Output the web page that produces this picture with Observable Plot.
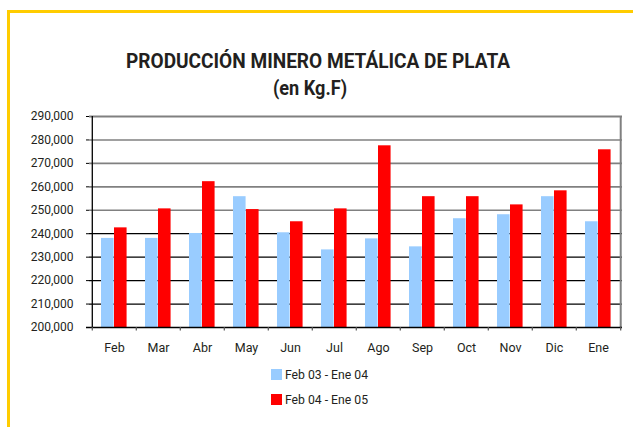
<!DOCTYPE html>
<html>
<head>
<meta charset="utf-8">
<script src="https://cdn.jsdelivr.net/npm/d3@7"></script>
<script src="https://cdn.jsdelivr.net/npm/@observablehq/plot@0.6"></script>
<style>
  html, body { margin: 0; padding: 0; background: #fff; }
  #wrap { position: relative; width: 633px; height: 427px; overflow: hidden; background: #fff;
    font-family: Roboto, "Liberation Sans", sans-serif; }
  #border { position: absolute; left: 7px; top: 10px; width: 640px; height: 430px;
    border-top: 3px solid #FFCC00; border-left: 3px solid #FFCC00; box-sizing: border-box; }
  .ttl { position: absolute; white-space: nowrap; font-weight: bold; color: #231f20;
    transform-origin: 0 0; line-height: 1; }
  #title { font-size: 20px; }
  #subtitle { font-size: 19.5px; }
  #chart { position: absolute; left: 0; top: 105px; }
  .leg { position: absolute; left: 271px; font-size: 12.5px; color: #231f20; line-height: 12px; white-space: nowrap; }
  .leg span.sw { display: inline-block; width: 11px; height: 11px; vertical-align: -1px; margin-right: 3px; }
  .leg span.tx { display: inline-block; transform-origin: 0 50%; }
</style>
</head>
<body>
<div id="wrap">
  <div id="border"></div>
  <div class="ttl" id="title">PRODUCCIÓN MINERO METÁLICA DE PLATA</div>
  <div class="ttl" id="subtitle">(en Kg.F)</div>
  <div id="chart"></div>
  <div class="leg" id="leg0" style="top:369px"></div>
  <div class="leg" id="leg1" style="top:394px"></div>
</div>
<script>
const months = ["Feb","Mar","Abr","May","Jun","Jul","Ago","Sep","Oct","Nov","Dic","Ene"];
const series = ["Feb 03 - Ene 04", "Feb 04 - Ene 05"];
const values2003 = [238000, 238000, 240100, 255800, 240400, 233100, 237800, 234400, 246400, 248100, 255800, 245100];
const values2004 = [242500, 250600, 262200, 250300, 245100, 250600, 277500, 255800, 255800, 252300, 258300, 275800];
const yTicks = [200000, 210000, 220000, 230000, 240000, 250000, 260000, 270000, 280000, 290000];
const colors = ["#99CCFF", "#FF0000"];

const W = 633, mL = 89, mR = 11;
const step = (W - mL - mR) / months.length;
const yMin = yTicks[0], yMax = yTicks[yTicks.length - 1];

const d0 = months.map((m, i) => ({month: m, value: values2003[i]}));
const d1 = months.map((m, i) => ({month: m, value: values2004[i]}));

const plot = Plot.plot({
  width: W,
  height: 254,
  marginLeft: mL,
  marginRight: mR,
  marginTop: 11,
  marginBottom: 32,
  style: {fontFamily: 'Roboto, "Liberation Sans", sans-serif', fontSize: "12px", color: "#231f20", background: "transparent", overflow: "visible"},
  x: {domain: months, padding: 0, label: null},
  y: {domain: [yMin, yMax], label: null},
  marks: [
    Plot.ruleY(yTicks.filter(t => t > 240000 && t < yMax), {y: d => d, stroke: "#808080", strokeWidth: 1.6}),
    Plot.ruleY(yTicks.filter(t => t > yMin && t <= 240000), {y: d => d, stroke: "#000", strokeWidth: 1.2}),
    Plot.barY(d0, {x: "month", y1: yMin, y2: "value", fill: colors[0], insetLeft: 9, insetRight: step - 22}),
    Plot.barY(d1, {x: "month", y1: yMin, y2: "value", fill: colors[1], insetLeft: 22, insetRight: step - 35}),
    Plot.ruleY([yMax], {stroke: "#808080", strokeWidth: 2}),
    Plot.ruleX([months[months.length - 1]], {dx: step / 2, y1: yMin, y2: yMax, stroke: "#808080", strokeWidth: 2}),
    Plot.ruleX([months[0]], {dx: -step / 2, y1: yMin, y2: yMax, stroke: "#000", strokeWidth: 1.3}),
    Plot.ruleY([yMin], {stroke: "#000", strokeWidth: 1.3, insetLeft: -3}),
    Plot.ruleX(months, {dx: -step / 2, y1: yMin, y2: yMin - 1500, stroke: "#555", strokeWidth: 1.2}),
    Plot.ruleX([months[months.length - 1]], {dx: step / 2, y1: yMin, y2: yMin - 1500, stroke: "#555", strokeWidth: 1.2}),
    Plot.axisY({ticks: yTicks, tickFormat: d3.format(","), tickSize: 3, tickPadding: 13, stroke: "#000", label: null}),
    Plot.axisX({tickSize: 0, tickPadding: 16, fontSize: 12.5, label: null})
  ]
});
document.getElementById("chart").appendChild(plot);

series.forEach((s, i) => {
  const el = document.getElementById("leg" + i);
  el.innerHTML = `<span class="sw" style="background:${colors[i]}"></span><span class="tx">${s}</span>`;
  const tx = el.querySelector(".tx");
  const w = tx.getBoundingClientRect().width;
  tx.style.transform = `scaleX(${83 / w})`;
});

// fit condensed-looking titles to the reference's extents
function fit(id, x0, x1, capTop) {
  const el = document.getElementById(id);
  const w = el.getBoundingClientRect().width;
  const fs = parseFloat(getComputedStyle(el).fontSize);
  el.style.left = x0 + "px";
  el.style.top = (capTop - fs * 0.17) + "px";
  el.style.transform = `scaleX(${(x1 - x0) / w})`;
}
fit("title", 126, 510, 54);
fit("subtitle", 273, 347, 82);
</script>
</body>
</html>
